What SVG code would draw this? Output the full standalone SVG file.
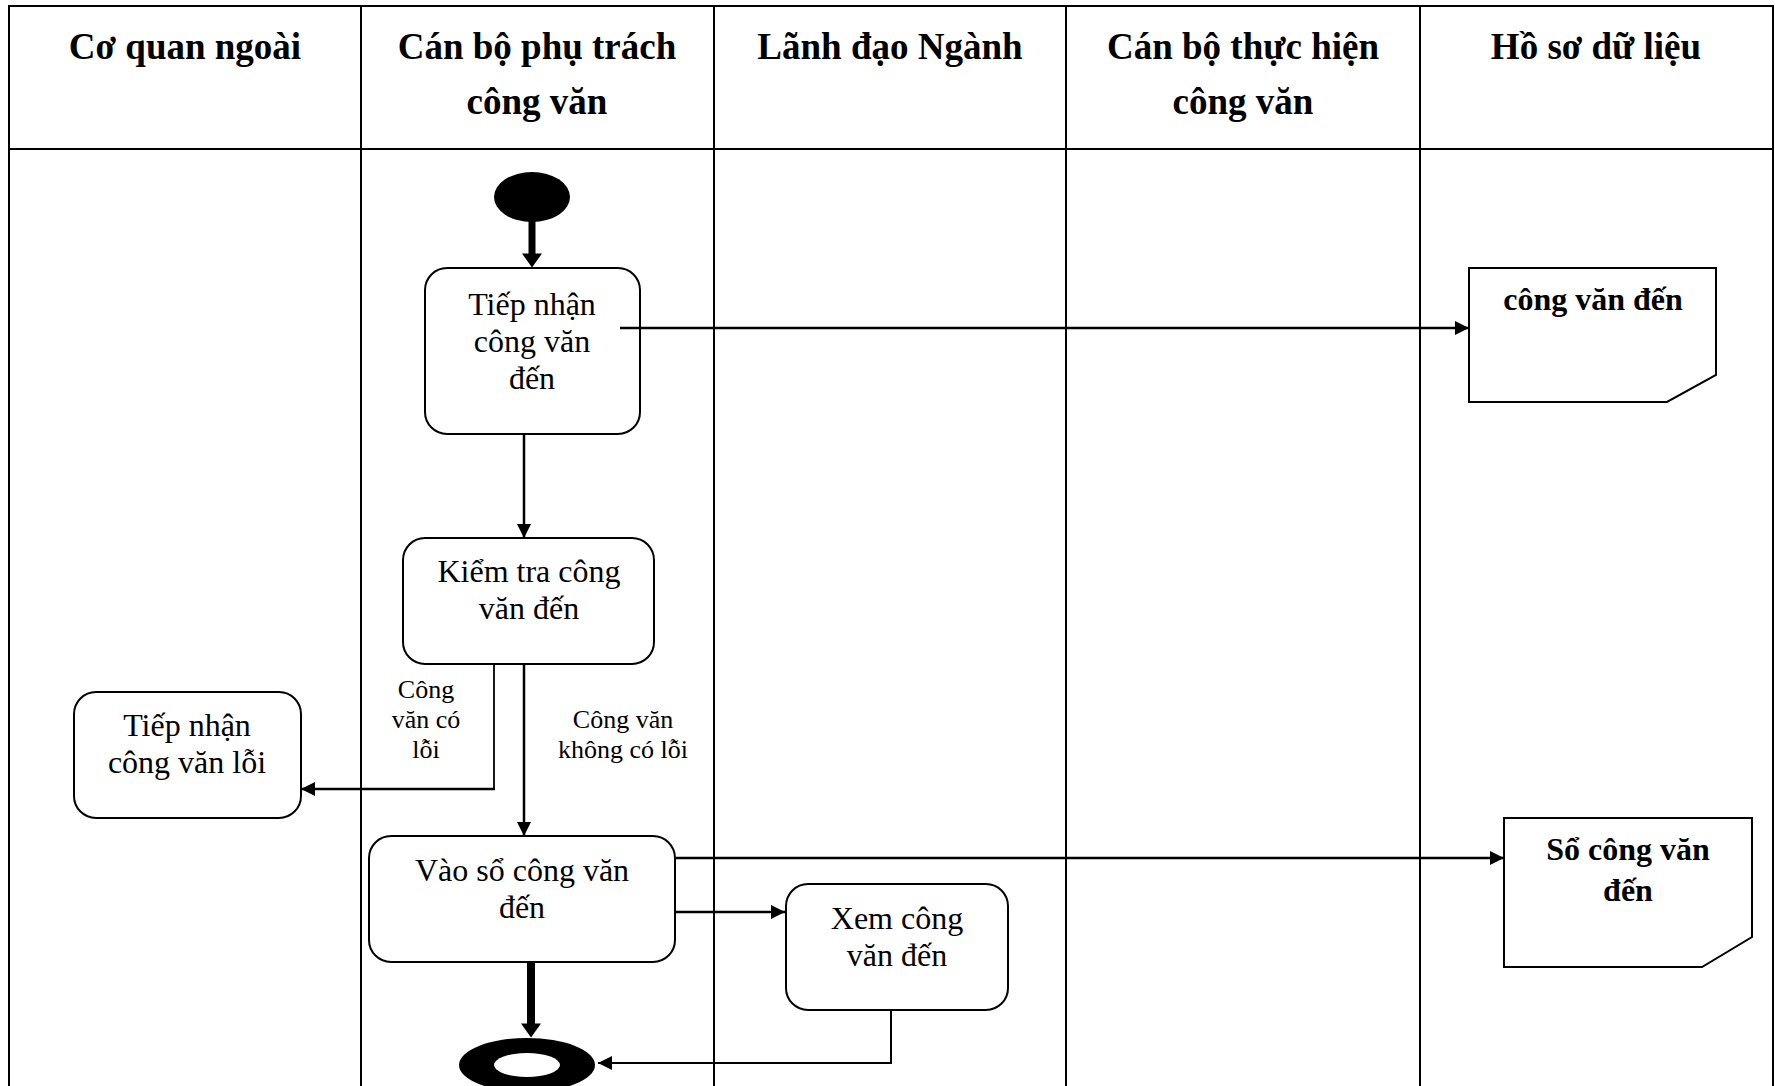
<svg xmlns="http://www.w3.org/2000/svg" width="1775" height="1086" viewBox="0 0 1775 1086">
  <style>
    .grid { stroke: #000; stroke-width: 2; fill: none; }
    .hdr { font-family: "Liberation Serif", "Times New Roman", serif; font-size: 37px; font-weight: bold; text-anchor: middle; fill: #000; }
    .box { fill: #fff; stroke: #000; stroke-width: 2; }
    .lbl { font-family: "Liberation Serif", "Times New Roman", serif; font-size: 32px; text-anchor: middle; fill: #000; }
    .doc { font-family: "Liberation Serif", "Times New Roman", serif; font-size: 32px; font-weight: bold; text-anchor: middle; fill: #000; }
    .note { font-family: "Liberation Serif", "Times New Roman", serif; font-size: 26px; text-anchor: middle; fill: #000; }
    .flow { stroke: #000; stroke-width: 2.5; fill: none; }
    .thick { stroke: #000; stroke-width: 7; fill: none; }
  </style>
  <defs>
    <!-- thin arrowhead: tip sits on the path end -->
    <marker id="arr" markerUnits="userSpaceOnUse" markerWidth="14" markerHeight="14" refX="14" refY="7" orient="auto">
      <path d="M0,0 L14,7 L0,14 z" fill="#000"/>
    </marker>
    <!-- heavy arrowhead: base sits on the path end, tip 14 units beyond -->
    <marker id="arrBig" markerUnits="userSpaceOnUse" markerWidth="15" markerHeight="20" refX="0.5" refY="10" orient="auto" overflow="visible">
      <path d="M0,0 L14,10 L0,20 z" fill="#000"/>
    </marker>
  </defs>

  <rect width="1775" height="1086" fill="#fff"/>

  <!-- swimlane table -->
  <g id="lanes">
    <path class="grid" d="M9,1090 V6 H1773 V1090"/>
    <path class="grid" d="M9,149 H1773"/>
    <path class="grid" d="M361,6 V1090 M714,6 V1090 M1066,6 V1090 M1420,6 V1090"/>
    <text class="hdr" x="185" y="59">Cơ quan ngoài</text>
    <text class="hdr" x="537" y="59">Cán bộ phụ trách</text>
    <text class="hdr" x="537" y="114">công văn</text>
    <text class="hdr" x="890" y="59">Lãnh đạo Ngành</text>
    <text class="hdr" x="1243" y="59">Cán bộ thực hiện</text>
    <text class="hdr" x="1243" y="114">công văn</text>
    <text class="hdr" x="1596" y="59">Hồ sơ dữ liệu</text>
  </g>

  <!-- start -->
  <g id="start">
    <ellipse cx="532" cy="197" rx="38" ry="25" fill="#000"/>
  </g>

  <g id="tiep-nhan">
    <rect class="box" x="425" y="268" width="215" height="166" rx="22"/>
    <text class="lbl" x="532" y="315">Tiếp nhận</text>
    <text class="lbl" x="532" y="352">công văn</text>
    <text class="lbl" x="532" y="389">đến</text>
  </g>

  <g id="cong-van-den">
    <path class="box" d="M1469,268 H1716 V375 L1667,402 H1469 Z"/>
    <text class="doc" x="1593" y="310">công văn đến</text>
  </g>

  <g id="kiem-tra">
    <rect class="box" x="403" y="538" width="251" height="126" rx="22"/>
    <text class="lbl" x="529" y="582">Kiểm tra công</text>
    <text class="lbl" x="529" y="619">văn đến</text>
  </g>

  <g id="cong-van-loi">
    <rect class="box" x="74" y="692" width="227" height="126" rx="22"/>
    <text class="lbl" x="187" y="736">Tiếp nhận</text>
    <text class="lbl" x="187" y="773">công văn lỗi</text>
  </g>

  <g id="vao-so">
    <rect class="box" x="369" y="836" width="306" height="126" rx="22"/>
    <text class="lbl" x="522" y="881">Vào sổ công văn</text>
    <text class="lbl" x="522" y="918">đến</text>
  </g>

  <g id="so-cong-van">
    <path class="box" d="M1504,818 H1752 V937 L1702,967 H1504 Z"/>
    <text class="doc" x="1628" y="860">Sổ công văn</text>
    <text class="doc" x="1628" y="901">đến</text>
  </g>

  <g id="xem">
    <rect class="box" x="786" y="884" width="222" height="126" rx="22"/>
    <text class="lbl" x="897" y="929">Xem công</text>
    <text class="lbl" x="897" y="966">văn đến</text>
  </g>

  <!-- end -->
  <g id="end">
    <ellipse cx="527" cy="1065" rx="68" ry="27" fill="#000"/>
    <ellipse cx="527" cy="1065" rx="33" ry="12" fill="#fff"/>
  </g>

  <!-- connectors -->
  <g id="connectors">
    <path class="thick" d="M532,220 V254" marker-end="url(#arrBig)"/>
    <path class="flow" d="M620,328 H1469" marker-end="url(#arr)"/>
    <path class="flow" d="M524,435 V538" marker-end="url(#arr)"/>
    <path class="flow" d="M494,665 V789" style="stroke-width:1.8"/>
    <path class="flow" d="M495,789 H301" marker-end="url(#arr)"/>
    <path class="flow" d="M524,665 V836" marker-end="url(#arr)"/>
    <path class="flow" d="M676,858 H1504" marker-end="url(#arr)"/>
    <path class="flow" d="M676,912 H785" marker-end="url(#arr)"/>
    <path class="thick" d="M531,963 V1024" style="stroke-width:8" marker-end="url(#arrBig)"/>
    <path class="flow" d="M891,1011 V1063 H598" style="stroke-width:2" marker-end="url(#arr)"/>
    <text class="note" x="426" y="698">Công</text>
    <text class="note" x="426" y="728">văn có</text>
    <text class="note" x="426" y="758">lỗi</text>
    <text class="note" x="623" y="728">Công văn</text>
    <text class="note" x="623" y="758">không có lỗi</text>
  </g>
</svg>
